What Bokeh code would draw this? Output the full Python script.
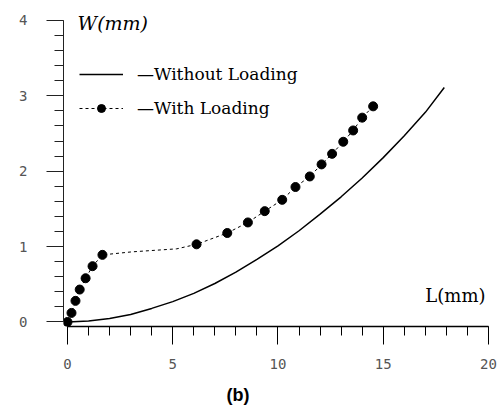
from bokeh.plotting import figure
from bokeh.models import (Range1d, LinearAxis, FixedTicker, Label, Legend, LegendItem, Title)
from bokeh.embed import file_html
from bokeh.resources import INLINE

# ---- data ----
without_L = [0, 1, 2, 3, 4, 5, 6, 7, 8, 9, 10, 11, 12, 13, 14, 15, 16, 17, 17.9]
without_W = [0, 0.012, 0.045, 0.10, 0.18, 0.27, 0.38, 0.51, 0.66, 0.83, 1.01,
             1.21, 1.43, 1.66, 1.91, 2.18, 2.47, 2.78, 3.11]

with_L = [0, 0.19, 0.38, 0.58, 0.86, 1.19, 1.66, 6.13, 7.59, 8.57, 9.37, 10.20,
          10.83, 11.51, 12.07, 12.57, 13.10, 13.57, 14.0, 14.52]
with_W = [0, 0.12, 0.28, 0.43, 0.58, 0.74, 0.89, 1.03, 1.18, 1.32, 1.47, 1.62,
          1.79, 1.93, 2.09, 2.23, 2.39, 2.54, 2.71, 2.86]

# path of the dashed connecting line (passes through the markers, with a kink near L=3)
with_line_L = [0, 0.19, 0.38, 0.58, 0.86, 1.19, 1.66, 3.06, 5.19, 6.13, 7.59, 8.57,
               9.37, 10.20, 10.83, 11.51, 12.07, 12.57, 13.10, 13.57, 14.0, 14.52]
with_line_W = [0, 0.12, 0.28, 0.43, 0.58, 0.74, 0.89, 0.93, 0.97, 1.03, 1.18, 1.32,
               1.47, 1.62, 1.79, 1.93, 2.09, 2.23, 2.39, 2.54, 2.71, 2.86]

x_major = [0, 5, 10, 15, 20]
x_minor = list(range(0, 21))
y_major = [0, 1, 2, 3, 4]
y_minor = [i / 5 for i in range(0, 21)]

p = figure(width=501, height=420, output_backend="svg", toolbar_location=None,
           x_axis_type=None, y_axis_type=None,
           x_range=Range1d(-0.19, 20.095), y_range=Range1d(-0.06, 4.078),
           min_border_left=63, min_border_right=11, min_border_top=14,
           min_border_bottom=94)
p.outline_line_color = None
p.xgrid.visible = False
p.ygrid.visible = False
p.background_fill_color = None
p.border_fill_color = None

tick_font = "DejaVu Sans Mono"

xaxis = LinearAxis(bounds=(0, 20),
                   ticker=FixedTicker(ticks=x_major, minor_ticks=x_minor))
xaxis.axis_line_width = 1.5
xaxis.axis_line_color = "black"
xaxis.major_tick_in = 0
xaxis.major_tick_out = 18
xaxis.minor_tick_in = 0
xaxis.minor_tick_out = 9
xaxis.major_tick_line_color = "black"
xaxis.minor_tick_line_color = "black"
xaxis.major_tick_line_width = 1
xaxis.minor_tick_line_width = 1
xaxis.major_label_standoff = 14
xaxis.major_label_text_font = tick_font
xaxis.major_label_text_font_size = "14px"
xaxis.major_label_text_color = "#555555"
p.add_layout(xaxis, "below")

yaxis = LinearAxis(bounds=(0, 4),
                   ticker=FixedTicker(ticks=y_major, minor_ticks=y_minor))
yaxis.axis_line_width = 1
yaxis.axis_line_color = "#222222"
yaxis.major_tick_in = 0
yaxis.major_tick_out = 17
yaxis.minor_tick_in = 0
yaxis.minor_tick_out = 9
yaxis.major_tick_line_color = "#222222"
yaxis.minor_tick_line_color = "#222222"
yaxis.major_label_standoff = 19
yaxis.major_label_orientation = "horizontal"
yaxis.major_label_text_font = tick_font
yaxis.major_label_text_font_size = "14px"
yaxis.major_label_text_color = "#555555"
p.add_layout(yaxis, "left")

caption = Title(text="(b)", align="left", offset=163, standoff=23,
                text_font="Liberation Sans", text_font_style="bold",
                text_font_size="18px", text_color="black")
p.add_layout(caption, "below")

r_without = p.line(without_L, without_W, line_color="black", line_width=1.5)
r_with_line = p.line(with_line_L, with_line_W, line_color="black", line_width=1,
                     line_dash="3 3")
r_with_pts = p.scatter(with_L, with_W, size=9, marker="circle",
                       fill_color="black", line_color="black")

legend = Legend(items=[LegendItem(label="\u2014Without Loading", renderers=[r_without]),
                       LegendItem(label="\u2014With Loading", renderers=[r_with_line, r_with_pts])],
                location=(16, 208), orientation="vertical")
legend.border_line_alpha = 0
legend.background_fill_alpha = 0
legend.padding = 0
legend.margin = 0
legend.spacing = 14
legend.glyph_width = 44
legend.glyph_height = 20
legend.label_standoff = 14
legend.label_text_font = "DejaVu Serif"
legend.label_text_font_size = "17px"
legend.label_text_color = "black"
p.add_layout(legend, "center")

p.add_layout(Label(x=0.48, y=3.97, text="W(mm)", text_font="DejaVu Serif",
                   text_font_style="italic", text_font_size="19px",
                   text_align="left", text_baseline="middle", text_color="black"))
p.add_layout(Label(x=17.0, y=0.35, text="L(mm)", text_font="DejaVu Serif",
                   text_font_size="18px", text_align="left",
                   text_baseline="middle", text_color="black"))

open("out.html", "w").write(file_html(p, INLINE))
